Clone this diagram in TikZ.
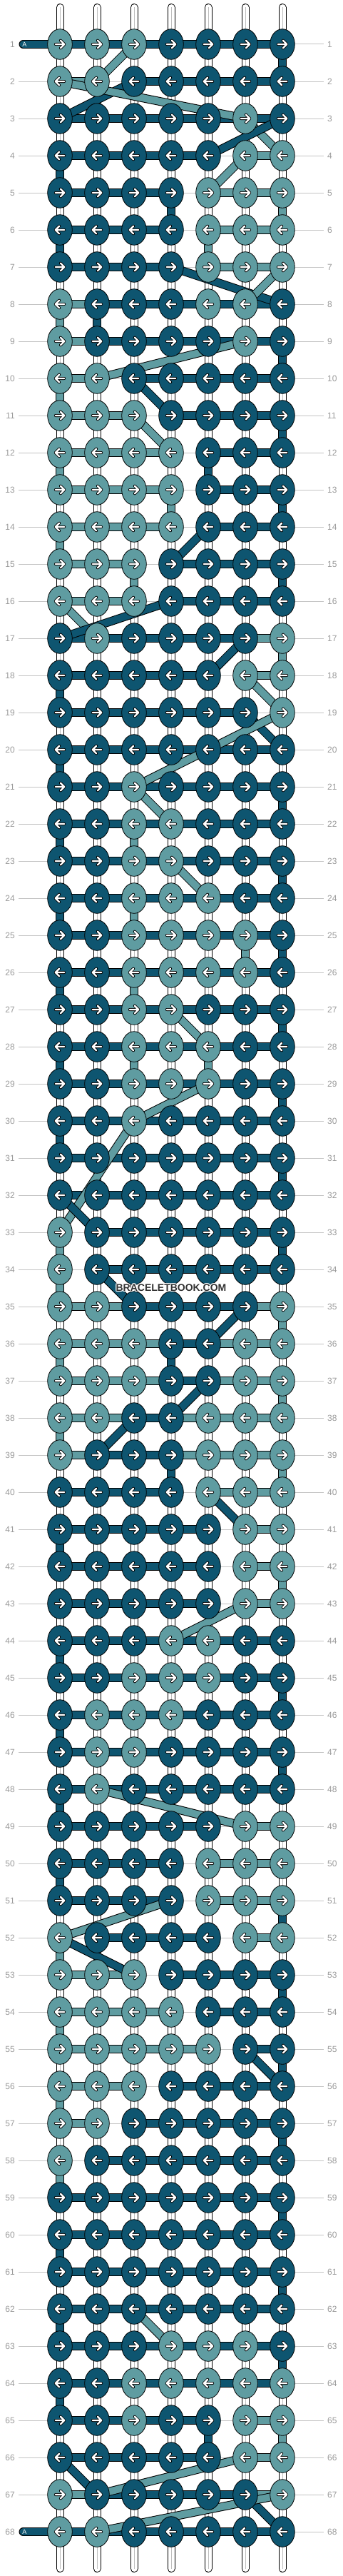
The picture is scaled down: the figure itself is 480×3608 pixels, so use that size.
\documentclass[tikz,border=0pt]{standalone}
\usepackage{fontspec}
\setmainfont{Liberation Sans}
\usetikzlibrary{shapes.geometric}
\definecolor{cD}{HTML}{0E5570}
\definecolor{cL}{HTML}{5F9CA1}
\definecolor{lblgray}{HTML}{9A9A9A}
\definecolor{rulegray}{HTML}{C4C4C4}
\definecolor{tubegray}{HTML}{BEBEBE}
\definecolor{wmark}{HTML}{333333}
\pgfdeclarelayer{back}
\pgfdeclarelayer{mid}
\pgfsetlayers{back,mid,main}
\tikzset{
  knot/.style={ellipse,draw=black,line width=0.8pt,minimum width=34.6pt,minimum height=42.6pt,inner sep=0pt},
  bandout/.style={draw=black,line width=12pt},
  bandin/.style={line width=10pt},
  arrK/.style={draw=black,line width=4pt,line cap=round,line join=round},
  arrW/.style={draw=white,line width=2.4pt,line cap=round,line join=round},
  rowrule/.style={draw=rulegray,line width=1pt},
  rowlbl/.style={text=lblgray,font=\fontsize{12}{12}\selectfont,inner sep=0pt},
}
\makeatletter
\newcommand\KR[2]{\KR@#1;#2\relax}
\def\KR@#1;#2#3#4#5#6#7#8\relax{\KN{#1}{1}{#2}\KN{#1}{2}{#3}\KN{#1}{3}{#4}\KN{#1}{4}{#5}\KN{#1}{5}{#6}\KN{#1}{6}{#7}\KN{#1}{7}{#8}}
\newcommand\KN[3]{\node[knot,fill=c#3] (k-#1-#2) at ({84+52*(#2-1)},{62+52*(#1-1)}) {};}
\newcommand\BR[2]{\BR@#1;#2\relax}
\def\BR@#1;#2#3#4#5#6#7\relax{\HB{#1}{1}{2}{#2}\HB{#1}{2}{3}{#3}\HB{#1}{3}{4}{#4}\HB{#1}{4}{5}{#5}\HB{#1}{5}{6}{#6}\HB{#1}{6}{7}{#7}}
\newcommand\HB[4]{\if N#4\else\draw[bandout] (k-#1-#2.center) -- (k-#1-#3.center);\draw[bandin,draw=c#4] (k-#1-#2.center) -- (k-#1-#3.center);\fi}
\newcommand\VR[2]{\VR@#1;#2\relax}
\def\VR@#1;#2#3#4#5#6#7#8\relax{\pgfmathtruncatemacro\nxr{#1+1}\VB{#1}{1}{#2}\VB{#1}{2}{#3}\VB{#1}{3}{#4}\VB{#1}{4}{#5}\VB{#1}{5}{#6}\VB{#1}{6}{#7}\VB{#1}{7}{#8}}
\newcommand\VB[3]{\if W#3\else\draw[bandout] (k-#1-#2.center) -- (k-\nxr-#2.center);\draw[bandin,draw=c#3] (k-#1-#2.center) -- (k-\nxr-#2.center);\fi}
\makeatother
\newcommand\DG[5]{\draw[bandout] (k-#1-#2.center) -- (k-#3-#4.center);\draw[bandin,draw=c#5] (k-#1-#2.center) -- (k-#3-#4.center);}
\newcommand\ROWknots[4]{\KR{#1}{#2}}
\newcommand\ROWbars[4]{\BR{#1}{#3}\VR{#1}{#4}}
\newcommand\rowdata{%
\ROW{1}{LLLDDDD}{DDDDDD}{WWWWWWD}%
\ROW{2}{LLDDDDD}{LNDDDD}{WWWWWWW}%
\ROW{3}{DDDDDLD}{DDDDDD}{WWWWWWW}%
\ROW{4}{DDDDDLL}{DDDDNL}{DWWWWWW}%
\ROW{5}{DDDDLLL}{DDDNLL}{WWWDWWL}%
\ROW{6}{DDDDLLL}{DDDNLL}{DWWWLWW}%
\ROW{7}{DDDDLLL}{DDDNLL}{WWWWWWW}%
\ROW{8}{LDDDLLD}{LDDDDD}{LDWWWWW}%
\ROW{9}{LDDDDLD}{LDDDDD}{WWWWWWD}%
\ROW{10}{LLDDDDD}{LNDDDD}{LWWWWWW}%
\ROW{11}{LLLDDDD}{LLNDDD}{WWWWWWD}%
\ROW{12}{LLLLDDD}{LLLNDD}{LWWWDWW}%
\ROW{13}{LLLLDDD}{LLLNDD}{WWWLWWD}%
\ROW{14}{LLLLDDD}{LLLNDD}{LWWWWWW}%
\ROW{15}{LLLDDDD}{LLNDDD}{WWLWWWD}%
\ROW{16}{LLLDDDD}{LLNDDD}{WWWWWWW}%
\ROW{17}{DLDDDDL}{DDDDDL}{WWWWWWL}%
\ROW{18}{DDDDDLL}{DDDDNL}{DWWWWWW}%
\ROW{19}{DDDDDDL}{DDDDDN}{WWWWWWW}%
\ROW{20}{DDDDDDD}{DDDDDD}{DWWWWWW}%
\ROW{21}{DDLDDDD}{DDDDDD}{WWWWWWD}%
\ROW{22}{DDLLDDD}{DDDDDD}{DWLWWWW}%
\ROW{23}{DDLLDDD}{DDDDDD}{WWWWWWD}%
\ROW{24}{DDLLLDD}{DDDDDD}{DWLWWWW}%
\ROW{25}{DDLLLLD}{DDDDDD}{WWWWWLD}%
\ROW{26}{DDLLLLD}{DDDDDD}{DWLWWWW}%
\ROW{27}{DDLLDDD}{DDDDDD}{WWWWWWD}%
\ROW{28}{DDLLLDD}{DDDDDD}{DWLWLWW}%
\ROW{29}{DDLLLDD}{DDDDDD}{WWWWWWD}%
\ROW{30}{DDLDDDD}{DDDDDD}{DWWWWWW}%
\ROW{31}{DDDDDDD}{DDDDDD}{WWWWWWD}%
\ROW{32}{DDDDDDD}{DDDDDD}{WWWWWWW}%
\ROW{33}{LDDDDDD}{NDDDDD}{LWWWWWD}%
\ROW{34}{LDDDDDD}{NDDDDD}{LWWWWWW}%
\ROW{35}{LLDDDDL}{LLDDDL}{WWWWWWL}%
\ROW{36}{LLLDDLL}{LLLDLL}{LWWDWWW}%
\ROW{37}{LLLDDLL}{LLLDLL}{WWWWWWL}%
\ROW{38}{LLDDLLL}{LLDLLL}{LWWWWWW}%
\ROW{39}{LDDDLLL}{LDDLLL}{WWWDWWL}%
\ROW{40}{DDDDLLL}{DDDNLL}{WWWWWWW}%
\ROW{41}{DDDDDLL}{DDDDNL}{DWWWWWW}%
\ROW{42}{DDDDDLL}{DDDDNL}{WWWWWWL}%
\ROW{43}{DDDDDLL}{DDDDNL}{WWWWWWW}%
\ROW{44}{DDDLLDD}{DDDDDD}{DWWWWWW}%
\ROW{45}{DDLLLDD}{DDDDDD}{WWWWWWD}%
\ROW{46}{DLLLDDD}{DDDDDD}{DWWWWWW}%
\ROW{47}{DLLDDDD}{DDDDDD}{WWWWWWD}%
\ROW{48}{DLDDDDD}{DDDDDD}{DWWWWWW}%
\ROW{49}{DDDDDLL}{DDDDNL}{WWWWWWW}%
\ROW{50}{DDDDLLL}{DDDNLL}{DWWWWWW}%
\ROW{51}{DDDDLLL}{DDDNLL}{WWWWWWD}%
\ROW{52}{LDDDDLL}{NDDDNL}{LWWWWWW}%
\ROW{53}{LLLDDDD}{LLNDDD}{WWWWWWD}%
\ROW{54}{LLLLDDD}{LLLNDD}{LWWWWWW}%
\ROW{55}{LLLLLDD}{LLLLND}{WWWWWWD}%
\ROW{56}{LLLDDDD}{LLNDDD}{LWWWWWW}%
\ROW{57}{LLDDDDD}{LNDDDD}{WWWWWWD}%
\ROW{58}{LDDDDDD}{NDDDDD}{LWWWWWW}%
\ROW{59}{DDDDDDD}{DDDDDD}{WWWWWWD}%
\ROW{60}{DDDDDDD}{DDDDDD}{DWWWWWW}%
\ROW{61}{DDDDDDD}{DDDDDD}{WWWWWWD}%
\ROW{62}{DDDDDDD}{DDDDDD}{DWWWWWW}%
\ROW{63}{DDDLLLD}{DDDDDD}{WWWWWWD}%
\ROW{64}{DDLLLLL}{DDDDDD}{DWWWWWW}%
\ROW{65}{DDLDDLL}{DDDDNL}{WWWWDWL}%
\ROW{66}{DDDDDLL}{DDDDNL}{WWWWWWW}%
\ROW{67}{LDDDDDL}{LDDDDL}{WWWWWWW}%
\ROW{68}{LLDDDDD}{DDDDDD}{WWWWWWW}%
}
\begin{document}
\begin{tikzpicture}[x=1pt,y=-1pt]
\useasboundingbox (0,0) rectangle (480,3608);
\begin{pgfonlayer}{back}
  \fill[white] (0,0) rectangle (480,3608);
  \foreach \r in {1,...,68}{%
    \pgfmathsetmacro\yy{62+52*(\r-1)}
    \draw[rowrule] (26,\yy) -- (454,\yy);
  }
  \foreach \c in {1,...,7}{%
    \pgfmathsetmacro\xx{84+52*(\c-1)}
    \coordinate (top-\c) at (\xx,10.5);
    \coordinate (bot-\c) at (\xx,3597.5);
    \draw[black,line width=11pt,line cap=round] (top-\c) -- (bot-\c);
    \draw[white,line width=9pt,line cap=round] (top-\c) -- (bot-\c);
    \draw[tubegray,line width=1pt] (top-\c) -- (bot-\c);
  }
\end{pgfonlayer}
\let\ROW\ROWknots
\rowdata
\foreach \r in {1,...,68}{%
  \pgfmathsetmacro\yy{62+52*(\r-1)}
  \node[rowlbl,anchor=east] (ll-\r) at (21,\yy) {\r};
  \node[rowlbl,anchor=west] (lr-\r) at (459,\yy) {\r};
}
\begin{pgfonlayer}{mid}
  \let\ROW\ROWbars
  \rowdata
  \DG{1}{3}{2}{2}{L}
  \DG{2}{3}{3}{1}{D}
  \DG{2}{1}{3}{6}{L}
  \DG{3}{6}{4}{7}{L}
  \DG{3}{7}{4}{5}{D}
  \DG{4}{6}{5}{5}{L}
  \DG{7}{4}{8}{7}{D}
  \DG{7}{7}{8}{6}{L}
  \DG{9}{6}{10}{2}{L}
  \DG{10}{3}{11}{4}{D}
  \DG{11}{3}{12}{4}{L}
  \DG{14}{5}{15}{4}{D}
  \DG{16}{1}{17}{2}{L}
  \DG{16}{4}{17}{1}{D}
  \DG{17}{6}{18}{5}{D}
  \DG{18}{6}{19}{7}{L}
  \DG{19}{6}{20}{7}{D}
  \DG{19}{7}{21}{3}{L}
  \DG{21}{3}{22}{4}{L}
  \DG{23}{4}{24}{5}{L}
  \DG{27}{4}{28}{5}{L}
  \DG{29}{5}{30}{3}{L}
  \DG{30}{3}{33}{1}{L}
  \DG{32}{1}{33}{2}{D}
  \DG{34}{2}{35}{3}{D}
  \DG{35}{6}{36}{5}{D}
  \DG{37}{5}{38}{4}{D}
  \DG{38}{3}{39}{2}{D}
  \DG{40}{5}{41}{6}{D}
  \DG{43}{6}{44}{4}{L}
  \DG{48}{2}{49}{6}{L}
  \DG{51}{4}{52}{1}{L}
  \DG{52}{1}{53}{3}{D}
  \DG{55}{6}{56}{7}{D}
  \DG{62}{3}{63}{4}{L}
  \DG{66}{1}{67}{2}{D}
  \DG{66}{6}{67}{2}{L}
  \DG{67}{6}{68}{7}{D}
  \DG{67}{7}{68}{2}{L}
  \coordinate (tagA1) at (32.5,62);
  \coordinate (tagA68) at (32.5,3546);
  \draw[bandout,line cap=round] (tagA1) -- (k-1-1.center);
  \draw[bandin,draw=cD,line cap=round] (tagA1) -- (k-1-1.center);
  \draw[bandout,line cap=round] (tagA68) -- (k-68-1.center);
  \draw[bandin,draw=cD,line cap=round] (tagA68) -- (k-68-1.center);
\end{pgfonlayer}
\foreach \r in {1,...,68}{%
  \foreach \c in {1,...,7}{%
    \ifodd\r\def\sx{1}\else\def\sx{-1}\fi
    \begin{scope}[shift={(k-\r-\c.center)},xscale=\sx]
      \draw[arrK] (-6.2,0) -- (6.2,0) (0.9,-5.3) -- (6.2,0) -- (0.9,5.3);
      \draw[arrW] (-6.2,0) -- (6.2,0) (0.9,-5.3) -- (6.2,0) -- (0.9,5.3);
    \end{scope}
  }
}
\node[text=white,font=\fontsize{9}{9}\selectfont,inner sep=0pt] (tagtxt1) at (34.3,62) {A};
\node[text=white,font=\fontsize{9}{9}\selectfont,inner sep=0pt] (tagtxt68) at (34.3,3546) {A};
\foreach \dx/\dy [count=\i] in {1/0,-1/0,0/1,0/-1,1/1,-1/-1,1/-1,-1/1}{%
  \node[text=white,opacity=0.85,font=\bfseries\fontsize{14}{14}\selectfont,inner sep=0pt] (wmh-\i) at (240+\dx,1803.5+\dy) {BRACELETBOOK.COM};
}
\node[text=wmark,font=\bfseries\fontsize{14}{14}\selectfont,inner sep=0pt] (wm) at (240,1803.5) {BRACELETBOOK.COM};
\end{tikzpicture}
\end{document}
